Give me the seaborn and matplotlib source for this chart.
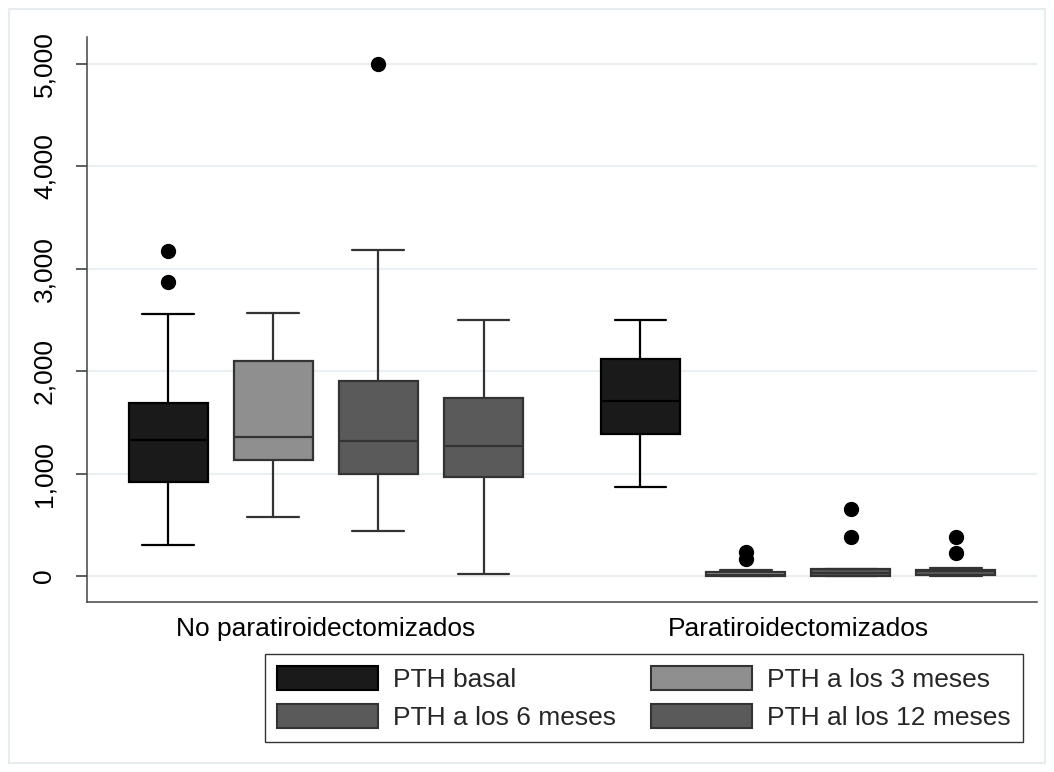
import numpy as np
import pandas as pd
import matplotlib
matplotlib.use('Agg')
import matplotlib.pyplot as plt
from matplotlib.patches import Patch, Rectangle
from matplotlib.ticker import FuncFormatter
import seaborn as sns

groups = ["No paratiroidectomizados", "Paratiroidectomizados"]
series = ["PTH basal", "PTH a los 3 meses", "PTH a los 6 meses", "PTH al los 12 meses"]

# box summaries: (lower whisker, Q1, median, Q3, upper whisker)
# one tuple per group, same order as `groups`
basal = [(308, 919, 1323, 1687, 2553), (867, 1391, 1704, 2117, 2495)]
mes3 = [(574, 1131, 1355, 2097, 2566), (0, 1, 15, 40, 57)]
mes6 = [(444, 994, 1316, 1899, 3178), (0, 3, 30, 70, 70)]
mes12 = [(20, 971, 1270, 1733, 2498), (0, 8, 45, 57, 83)]

# outside values (dots)
basal_out = [[2866, 3171], []]
mes3_out = [[], [171, 235]]
mes6_out = [[5000], [381, 657]]
mes12_out = [[], [225, 385]]

face_colors = ["#1a1a1a", "#8f8f8f", "#5a5a5a", "#5a5a5a"]
edge_colors = ["#000000", "#333333", "#333333", "#333333"]


def expand(stats, outliers):
    # repeat each summary value so seaborn's percentiles land exactly on it
    lo, q1, med, q3, hi = stats
    return [lo] + [q1] * 4 + [med] * 4 + [q3] * 4 + [hi] + list(outliers)


rows = []
for name, summ, outs in zip(series, [basal, mes3, mes6, mes12],
                            [basal_out, mes3_out, mes6_out, mes12_out]):
    for g, st, o in zip(groups, summ, outs):
        for v in expand(st, o):
            rows.append({"grupo": g, "serie": name, "PTH": v})
df = pd.DataFrame(rows)

sns.set_theme(style="white")
plt.rcParams['font.family'] = ['Liberation Sans', 'DejaVu Sans']

W, H = 1054, 772
fig = plt.figure(figsize=(W / 100, H / 100), dpi=100)
ax = fig.add_axes([87 / W, 1 - 602 / H, (1037 - 87) / W, (602 - 37) / H])

width = 0.89
step = width / 4
sns.boxplot(data=df, x="grupo", y="PTH", hue="serie", order=groups, hue_order=series,
            palette=face_colors, saturation=1, width=width, gap=0.25, linewidth=1.6,
            linecolor="#333333", fliersize=10,
            flierprops=dict(marker='o', markerfacecolor='black', markeredgecolor='black'),
            legend=False, ax=ax)


def hue_index(x):
    rel = x - np.round(x)
    return int(np.clip(np.round((rel + 1.5 * step) / step), 0, 3))


for cont in ax.containers:
    for b in cont.boxes:
        i = hue_index(b.get_path().vertices[:, 0].mean())
        b.set_edgecolor(edge_colors[i])
        b.set_linewidth(1.6)
    for ln in list(cont.whiskers) + list(cont.medians):
        i = hue_index(np.mean(ln.get_xdata()))
        ln.set_color(edge_colors[i])
        ln.set_linewidth(1.6)
    for ln in cont.caps:
        c = np.mean(ln.get_xdata())
        ln.set_xdata([c - 0.055, c + 0.055])
        ln.set_color(edge_colors[hue_index(c)])
        ln.set_linewidth(1.6)
    for f in cont.fliers:
        f.set_markerfacecolor('black')
        f.set_markeredgecolor('black')
        f.set_markersize(10)

ax.set_xlim(-0.506, 1.506)
ax.set_ylim(-253, 5260)
ax.set_yticks(range(0, 5001, 1000))
ax.yaxis.set_major_formatter(FuncFormatter(lambda v, p: f"{int(v):,}"))
ax.tick_params(axis='y', left=True, labelrotation=90, length=8, width=1.1, color='#333333',
               pad=14, labelsize=19, labelcolor='black')
for lab in ax.get_yticklabels():
    lab.set_va('center')
ax.tick_params(axis='x', length=0, pad=11, labelsize=19, labelcolor='black')
ax.set_xlabel('')
ax.set_ylabel('')
ax.grid(axis='y', color='#e8f0f1', linewidth=1.5)
ax.set_axisbelow(True)
sns.despine(ax=ax)
for s in ['left', 'bottom']:
    ax.spines[s].set_color('#444444')
    ax.spines[s].set_linewidth(1.1)

handles = [Patch(facecolor=face_colors[i], edgecolor=edge_colors[i], linewidth=1.5,
                 label=series[i]) for i in range(4)]
order = [0, 2, 1, 3]
leg = fig.legend([handles[i] for i in order], [series[i] for i in order], ncol=2,
                 loc='upper left', bbox_to_anchor=(265 / W, 1 - 654 / H),
                 bbox_transform=fig.transFigure, fontsize=19, handlelength=3.83,
                 handleheight=1.05, handletextpad=0.57, columnspacing=1.33,
                 labelspacing=0.45, borderpad=0.45, borderaxespad=0, frameon=True,
                 fancybox=False, edgecolor='#333333', framealpha=1)
leg.get_frame().set_linewidth(1.0)

# light frame around the whole graph region
fig.patches.append(Rectangle((9 / W, 9 / H), 1036 / W, 754 / H, transform=fig.transFigure,
                             fill=False, edgecolor='#e6edf0', linewidth=1.5))

fig.savefig('out.png', dpi=100)
